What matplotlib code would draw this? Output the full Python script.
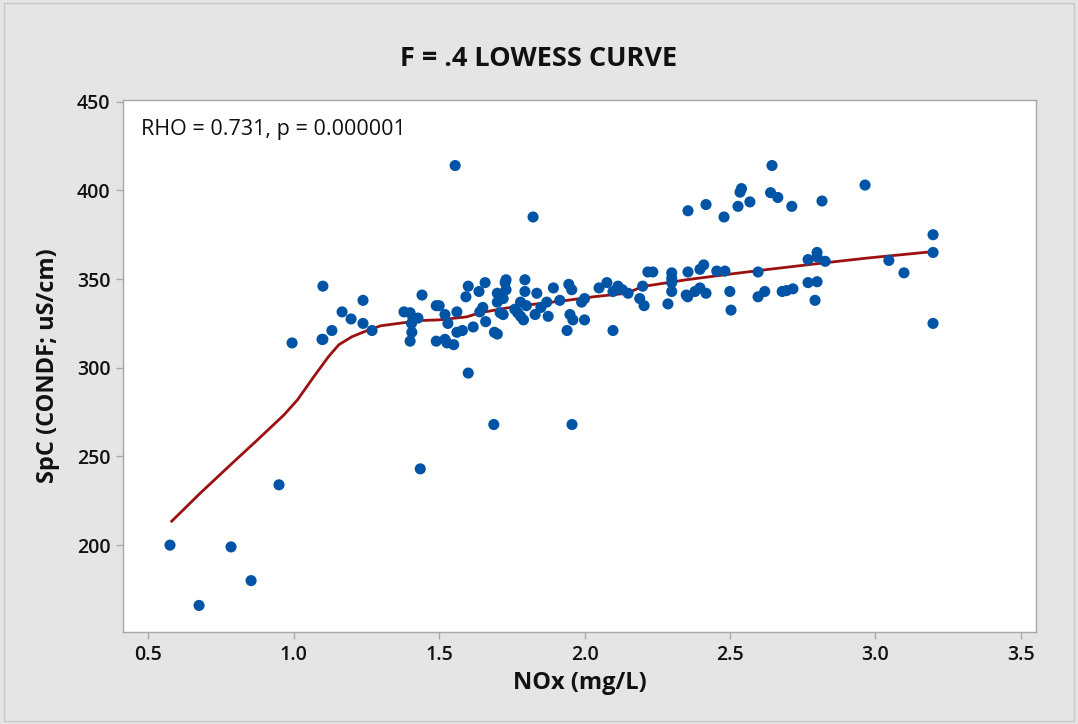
import matplotlib
matplotlib.use("Agg")
import matplotlib.pyplot as plt
from matplotlib.patches import Rectangle

# ---- data ----
nox = [0.574, 0.674, 0.784, 0.853, 0.949, 0.994,
       1.097, 1.100, 1.131, 1.100, 1.166, 1.197, 1.238, 1.238, 1.269,
       1.441, 1.379, 1.400, 1.410, 1.427, 1.406, 1.400, 1.405, 1.435,
       1.490, 1.500, 1.520, 1.530, 1.520, 1.490, 1.527, 1.550, 1.561, 1.561, 1.580,
       1.600, 1.592, 1.637, 1.658, 1.617, 1.640, 1.650, 1.660, 1.600, 1.555,
       1.690, 1.700, 1.700, 1.710, 1.727, 1.700, 1.720, 1.688,
       1.730, 1.730, 1.795, 1.795, 1.780, 1.760, 1.780, 1.720, 1.770, 1.790, 1.800,
       1.836, 1.850, 1.870, 1.875, 1.893, 1.830, 1.823, 1.915,
       1.946, 1.956, 1.950, 1.960, 1.940, 1.957, 1.990, 2.000, 2.000,
       2.050, 2.077, 2.098, 2.115, 2.098, 2.150, 2.130,
       2.200, 2.190, 2.205, 2.218, 2.235,
       2.300, 2.300, 2.300, 2.300, 2.287,
       2.356, 2.397, 2.410, 2.350, 2.355, 2.380, 2.397, 2.418,
       2.455, 2.483, 2.500, 2.504,
       2.356, 2.418, 2.480, 2.528, 2.535, 2.540, 2.569, 2.640, 2.645, 2.665, 2.713,
       2.597, 2.597, 2.620, 2.680, 2.695, 2.717,
       2.769, 2.800, 2.800, 2.828, 2.769, 2.800, 2.793, 2.817, 2.965,
       3.047, 3.099, 3.199, 3.199, 3.199]
spc = [200, 166, 199, 180, 234, 314,
       316, 346, 321, 316, 331.5, 327.5, 338, 325, 321,
       341, 331.5, 331, 328, 328, 320, 315, 325, 243,
       335, 335, 330, 325, 316, 315, 314, 313, 331.5, 320, 321,
       346, 340, 343, 348, 323, 331.5, 334, 326, 297, 414,
       320, 319, 337, 331, 348, 342, 339, 268,
       349.6, 344, 349.6, 343, 337, 333, 329, 330, 331, 327, 335,
       342, 334, 337, 329, 345, 330, 385, 338,
       347, 344, 330, 327, 321, 268, 337, 339, 327,
       345, 348, 321, 346, 343, 342, 344,
       346, 339, 335, 354, 354,
       353.5, 350.5, 348, 343, 336,
       354, 355.5, 358, 341, 340, 343, 345, 342,
       354.5, 354.5, 343, 332.5,
       388.5, 392, 385, 391, 399, 401, 393.5, 398.7, 414, 396, 391,
       354, 340, 343, 343, 343.5, 344.5,
       361, 365, 362.5, 360, 348, 348.5, 338, 394, 403,
       360.5, 353.5, 375, 365, 325]

lowess_x = [0.58, 0.68, 0.80, 0.865, 0.966, 1.013, 1.072, 1.12, 1.155, 1.20,
            1.26, 1.30, 1.434, 1.50, 1.595, 1.64, 1.733, 1.81, 1.94, 2.03,
            2.145, 2.20, 2.35, 2.51, 2.64, 2.765, 2.834, 2.97, 3.2]
lowess_y = [213.5, 229.6, 248, 257.8, 273.4, 282, 295.7, 306.4, 313, 317.5,
            321.5, 323.7, 326.6, 327, 328.7, 331, 333.7, 335.5, 338, 340,
            342, 345.8, 349.6, 353, 355.6, 358, 359.3, 361.8, 365.5]

x_ticks = [0.5, 1.0, 1.5, 2.0, 2.5, 3.0, 3.5]
y_ticks = [200, 250, 300, 350, 400, 450]
title = "F = .4 LOWESS CURVE"
x_label = "NOx (mg/L)"
y_label = "SpC (CONDF; uS/cm)"
annotation = "RHO = 0.731, p = 0.000001"

# ---- styling ----
plt.rcParams['font.family'] = ['Open Sans', 'DejaVu Sans']
bg = '#e5e5e5'
dot = '#0054a6'
curve = '#9b1111'

fig = plt.figure(figsize=(10.78, 7.24), dpi=100, facecolor=bg)
fig.patches.append(Rectangle((0.004, 0.004), 0.992, 0.992, transform=fig.transFigure,
                             fill=False, edgecolor='#c8c8c8', linewidth=1))
ax = fig.add_axes([0.114, 0.127, 0.847, 0.735])
ax.set_facecolor('white')

ax.scatter(nox, spc, s=64, color=dot, edgecolors='none', zorder=3)
ax.plot(lowess_x, lowess_y, color=curve, linewidth=2.0, zorder=2)

ax.set_xlim(0.412, 3.553)
ax.set_ylim(151, 451)
ax.set_xticks(x_ticks)
ax.set_xticklabels([f"{v:.1f}" for v in x_ticks])
ax.set_yticks(y_ticks)
for s in ax.spines.values():
    s.set_color('#a8a8a8')
    s.set_linewidth(1.0)
ax.tick_params(axis='both', colors='#a8a8a8', labelcolor='#111111', labelsize=14,
               length=5, width=1, direction='out', pad=4)
for lab in ax.get_xticklabels() + ax.get_yticklabels():
    lab.set_fontweight('semibold')

ax.set_xlabel(x_label, fontsize=17, fontweight='bold', color='#111111', labelpad=5)
ax.set_ylabel(y_label, fontsize=17, fontweight='bold', color='#111111', labelpad=12)
fig.text(0.5, 0.919, title, ha='center', va='center', fontsize=19.5,
         fontweight='bold', color='#111111')
ax.text(0.02, 0.965, annotation, transform=ax.transAxes, ha='left', va='top',
        fontsize=15.5, color='#111111')

fig.savefig("out.png", dpi=100, facecolor=bg)
